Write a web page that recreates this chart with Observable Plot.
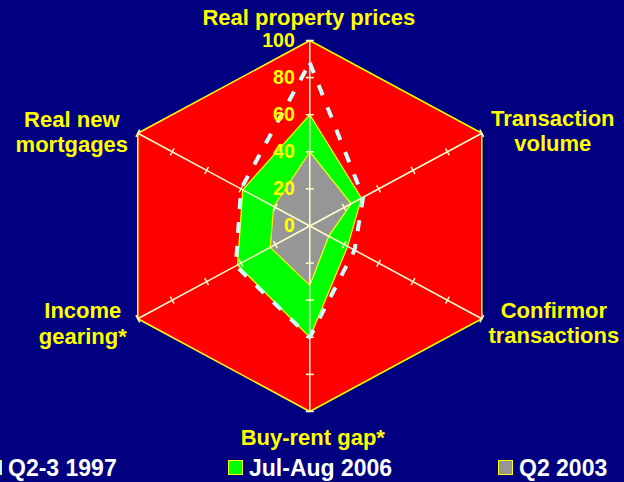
<!DOCTYPE html>
<html><head><meta charset="utf-8">
<script src="https://cdn.jsdelivr.net/npm/d3@7"></script>
<script src="https://cdn.jsdelivr.net/npm/@observablehq/plot@0.6"></script>
<style>
html,body{margin:0;padding:0;background:#000080;overflow:hidden;}
#chart svg{display:block;}
#legend{position:relative;width:624px;height:30px;font-family:"Liberation Sans",Arial,sans-serif;font-weight:bold;font-size:23px;color:#fff;}
.sw{position:absolute;top:8px;width:13px;height:13px;border:1px solid #FFFF00;}
.lab{position:absolute;top:5px;line-height:22px;white-space:nowrap;}
</style></head><body>
<div id="chart"></div><div id="legend"></div>
<script>
// ---- data ----
const categories = ["Real property prices", "Transaction volume", "Confirmor transactions", "Buy-rent gap*", "Income gearing*", "Real new mortgages"];
const categoryLabels = ["Real property prices", "Transaction\nvolume", "Confirmor\ntransactions", "Buy-rent gap*", "Income\ngearing*", "Real new\nmortgages"];
const seriesNames = ["Q2-3 1997", "Jul-Aug 2006", "Q2 2003"];
const values1997 = [88, 31, 26, 60, 43, 40];
const values2006 = [60, 30, 22, 60, 42, 39];
const values2003 = [40, 24, 11, 32, 23, 21];
const tickValues = [0, 20, 40, 60, 80, 100];
const gridMax = 100;

// ---- layout ----
const W = 624, H = 452;
const cx = 309.3, cy = 225.5, rx = 198.6, ry = 185.5;
const angle = i => (90 - 60 * i) * Math.PI / 180;
const pt = (v, i) => ({x: v / gridMax * Math.cos(angle(i)), y: v / gridMax * Math.sin(angle(i))});
const poly = vals => vals.map((v, i) => ({category: categories[i], value: v, ...pt(v, i)}));

const hexagon = poly(categories.map(() => gridMax));
const p1997 = poly(values1997);
const p2006 = poly(values2006);
const p2003 = poly(values2003);

// tick marks perpendicular to each spoke (4px each side)
const tickData = [];
categories.forEach((c, i) => {
  tickValues.filter(v => v > 0).forEach(v => {
    const a = angle(i);
    const ux = Math.cos(a) * rx, uy = -Math.sin(a) * ry;
    const len = Math.hypot(ux, uy);
    const px = -uy / len * 4, py = ux / len * 4;
    const P = pt(v, i);
    tickData.push({x1: P.x - px / rx, y1: P.y + py / ry, x2: P.x + px / rx, y2: P.y - py / ry});
  });
});

// label pixel offsets from each spoke end
const labelOffsets = [[-1, -24], [71, -2.7], [72, 3.4], [3, 25], [-55, 4.3], [-66, -2]];

const font = "'Liberation Sans', Arial, Helvetica, sans-serif";
const chart = Plot.plot({
  width: W, height: H, margin: 0,
  style: {background: "#000080", fontFamily: font},
  x: {domain: [-1, 1], range: [cx - rx, cx + rx], axis: null},
  y: {domain: [-1, 1], range: [cy + ry, cy - ry], axis: null},
  marks: [
    Plot.line(hexagon, {x: "x", y: "y", curve: "linear-closed", fill: "#FF0000", stroke: "#FFFF00", strokeWidth: 1.5}),
    Plot.line(p2006, {x: "x", y: "y", curve: "linear-closed", fill: "#00FF00", stroke: "#FFFF00", strokeWidth: 1.2}),
    Plot.line(p2003, {x: "x", y: "y", curve: "linear-closed", fill: "#969696", stroke: "#FFFF00", strokeWidth: 1.2}),
    Plot.link(hexagon, {x1: () => 0, y1: () => 0, x2: "x", y2: "y", stroke: "#FFFFCC", strokeWidth: 1.5}),
    Plot.link(tickData, {x1: "x1", y1: "y1", x2: "x2", y2: "y2", stroke: "#FFFFCC", strokeWidth: 1.5}),
    Plot.line(p1997, {x: "x", y: "y", curve: "linear-closed", stroke: "#CCFFFF", strokeWidth: 4, strokeDasharray: "11,13", strokeLinecap: "butt", strokeLinejoin: "miter"}),
    Plot.text(tickValues, {x: () => 0, y: v => v / gridMax, text: v => String(v), dx: -15, textAnchor: "end", fill: "#FFFF00", fontSize: 19.5, fontWeight: "bold"}),
    Plot.text(hexagon, {
      x: (d, i) => d.x + labelOffsets[i][0] / rx,
      y: (d, i) => d.y - labelOffsets[i][1] / ry,
      text: (d, i) => categoryLabels[i],
      textAnchor: "middle", lineAnchor: "middle", lineHeight: 1.16,
      fill: "#FFFF00", fontSize: 22, fontWeight: "bold"
    })
  ]
});
document.getElementById("chart").appendChild(chart);

// ---- legend ----
const legendFills = ["#CCFFFF", "#00FF00", "#969696"];
const legendLeft = [-13, 228, 498];
const legend = document.getElementById("legend");
seriesNames.forEach((name, i) => {
  const sw = document.createElement("span");
  sw.className = "sw";
  sw.style.left = legendLeft[i] + "px";
  sw.style.background = legendFills[i];
  legend.appendChild(sw);
  const lab = document.createElement("span");
  lab.className = "lab";
  lab.style.left = (legendLeft[i] + 21) + "px";
  lab.textContent = name;
  legend.appendChild(lab);
});
</script>
</body></html>
